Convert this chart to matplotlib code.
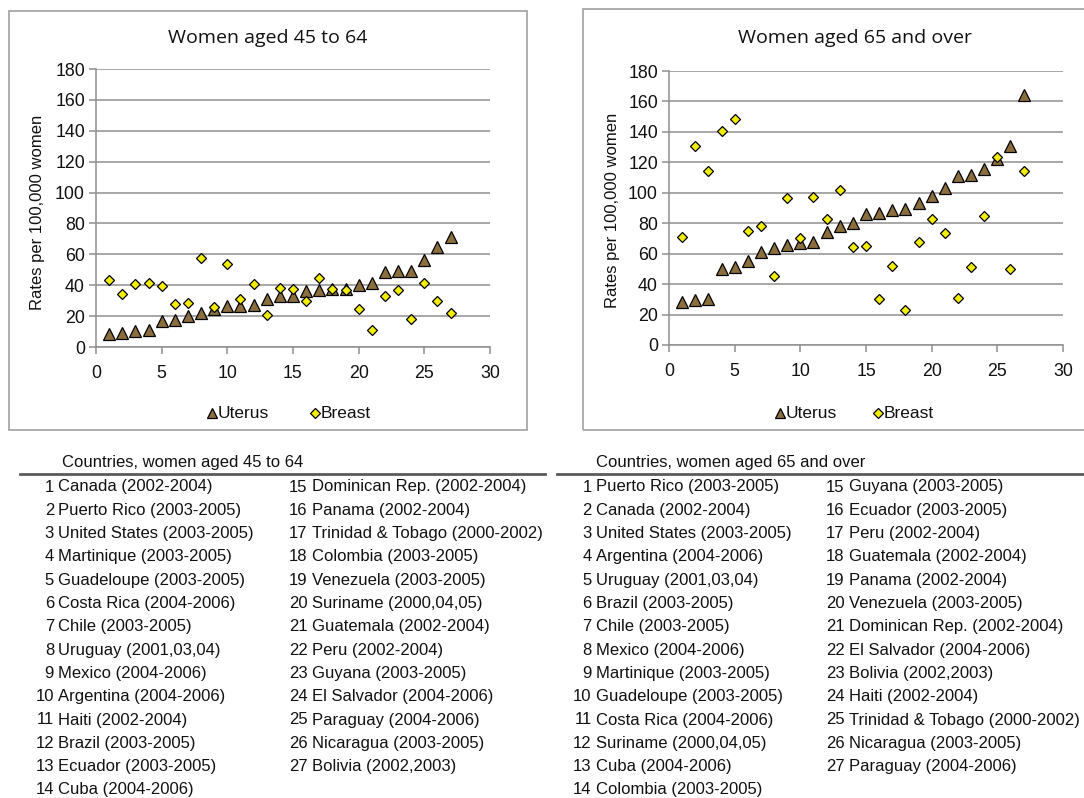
import matplotlib
matplotlib.use("Agg")
import matplotlib.pyplot as plt
from matplotlib.patches import Rectangle
from matplotlib.lines import Line2D

# ---------------- data ----------------
x_index = list(range(1, 28))

uterus_45_64 = [8.6, 9.3, 10.2, 10.8, 16.6, 17.3, 19.9, 22.3, 24.8, 26.6, 26.6, 27.4, 30.9, 32.8,
                33.0, 36.0, 36.7, 37.6, 37.6, 40.0, 41.7, 48.6, 49.0, 49.3, 56.6, 64.8, 71.3]
breast_45_64 = [43.6, 34.6, 41.0, 41.7, 39.5, 28.0, 28.5, 57.7, 26.0, 54.0, 31.0, 41.0, 20.5, 38.5,
                37.4, 29.6, 45.0, 37.8, 36.7, 24.4, 11.2, 33.0, 37.0, 18.0, 41.7, 29.6, 22.3]

uterus_65 = [28.0, 29.6, 30.2, 50.0, 51.5, 55.2, 61.0, 63.5, 65.7, 66.8, 67.9, 74.4, 78.4, 80.0,
             85.8, 86.5, 88.7, 89.1, 93.0, 98.0, 103.3, 111.0, 112.0, 115.4, 122.0, 131.0, 164.0]
breast_65 = [71.0, 131.0, 114.3, 140.6, 148.5, 75.0, 78.4, 45.3, 96.8, 70.5, 97.4, 82.8, 101.8, 64.2,
             65.3, 30.0, 51.9, 23.0, 67.9, 82.5, 73.8, 30.7, 51.5, 84.7, 123.7, 50.1, 114.5]

titles = ["Women aged 45 to 64", "Women aged 65 and over"]
y_label = "Rates per 100,000 women"
series_names = ["Uterus", "Breast"]
x_ticks = [0, 5, 10, 15, 20, 25, 30]
y_ticks = [0, 20, 40, 60, 80, 100, 120, 140, 160, 180]

table_titles = ["Countries, women aged 45 to 64", "Countries, women aged 65 and over"]
countries_45_64 = ["Canada (2002-2004)", "Puerto Rico (2003-2005)", "United States (2003-2005)",
                   "Martinique (2003-2005)", "Guadeloupe (2003-2005)", "Costa Rica (2004-2006)",
                   "Chile (2003-2005)", "Uruguay (2001,03,04)", "Mexico (2004-2006)",
                   "Argentina (2004-2006)", "Haiti (2002-2004)", "Brazil (2003-2005)",
                   "Ecuador (2003-2005)", "Cuba (2004-2006)", "Dominican Rep. (2002-2004)",
                   "Panama (2002-2004)", "Trinidad & Tobago (2000-2002)", "Colombia (2003-2005)",
                   "Venezuela (2003-2005)", "Suriname (2000,04,05)", "Guatemala (2002-2004)",
                   "Peru (2002-2004)", "Guyana (2003-2005)", "El Salvador (2004-2006)",
                   "Paraguay (2004-2006)", "Nicaragua (2003-2005)", "Bolivia (2002,2003)"]
countries_65 = ["Puerto Rico (2003-2005)", "Canada (2002-2004)", "United States (2003-2005)",
                "Argentina (2004-2006)", "Uruguay (2001,03,04)", "Brazil (2003-2005)",
                "Chile (2003-2005)", "Mexico (2004-2006)", "Martinique (2003-2005)",
                "Guadeloupe (2003-2005)", "Costa Rica (2004-2006)", "Suriname (2000,04,05)",
                "Cuba (2004-2006)", "Colombia (2003-2005)", "Guyana (2003-2005)",
                "Ecuador (2003-2005)", "Peru (2002-2004)", "Guatemala (2002-2004)",
                "Panama (2002-2004)", "Venezuela (2003-2005)", "Dominican Rep. (2002-2004)",
                "El Salvador (2004-2006)", "Bolivia (2002,2003)", "Haiti (2002-2004)",
                "Trinidad & Tobago (2000-2002)", "Nicaragua (2003-2005)", "Paraguay (2004-2006)"]

# ---------------- style ----------------
W, H = 1084, 798
plt.rcParams['font.family'] = ['Liberation Sans', 'DejaVu Sans']
UT_COLOR = '#8B6E3E'
BR_COLOR = '#F4EE06'
GRID = '#8F8F8F'
BOX = '#A8A8A8'

fig = plt.figure(figsize=(W / 100, H / 100), dpi=100)


def fx(x):
    return x / W


def fy(y):
    return 1 - y / H


def box(x0, y0, x1, y1):
    fig.patches.append(Rectangle((fx(x0), fy(y1)), fx(x1) - fx(x0), fy(y0) - fy(y1),
                                 transform=fig.transFigure, fill=False,
                                 edgecolor=BOX, linewidth=1.3, zorder=0))


box(9, 11, 527, 430)
box(583, 9, 1090, 430)

panels = [
    dict(ax_px=(96, 69, 490, 347), ut=uterus_45_64, br=breast_45_64, title=titles[0],
         title_x=268, ylab_x=38, ylab_y=212, leg=(212, 315)),
    dict(ax_px=(669, 71, 1063, 345), ut=uterus_65, br=breast_65, title=titles[1],
         title_x=855, ylab_x=612, ylab_y=210, leg=(780, 878)),
]

for p in panels:
    x0, y0, x1, y1 = p['ax_px']
    ax = fig.add_axes([fx(x0), fy(y1), fx(x1) - fx(x0), fy(y0) - fy(y1)])
    ax.set_xlim(0, 30)
    ax.set_ylim(0, 180)
    ax.set_xticks(x_ticks)
    ax.set_yticks(y_ticks)
    ax.tick_params(axis='both', labelsize=12.8, colors=GRID, labelcolor='#111111',
                   length=5, width=1.1, direction='out')
    ax.tick_params(axis='x', pad=8)
    ax.tick_params(axis='y', pad=3)
    for s in ['top', 'right']:
        ax.spines[s].set_visible(False)
    for s in ['left', 'bottom']:
        ax.spines[s].set_color(GRID)
        ax.spines[s].set_linewidth(1.1)
    ax.yaxis.grid(True, color=GRID, linewidth=1.1)
    ax.set_axisbelow(True)
    ax.plot(x_index, p['ut'], linestyle='none', marker='^', markersize=8.5,
            markerfacecolor=UT_COLOR, markeredgecolor='black', markeredgewidth=0.9,
            clip_on=False, zorder=3)
    ax.plot(x_index, p['br'], linestyle='none', marker='D', markersize=5.6,
            markerfacecolor=BR_COLOR, markeredgecolor='black', markeredgewidth=0.9,
            clip_on=False, zorder=4)
    fig.text(fx(p['ylab_x']), fy(p['ylab_y']), y_label, rotation=90, ha='center',
             va='center', fontsize=12, color='#111111')
    fig.text(fx(p['title_x']), fy(38), p['title'], ha='center', va='center',
             fontsize=14, family=['Open Sans', 'DejaVu Sans'], color='#111111')
    # legend
    ux, bx = p['leg']
    ly = fy(413)
    fig.lines.append(Line2D([fx(ux)], [ly], transform=fig.transFigure, linestyle='none',
                            marker='^', markersize=7.5, markerfacecolor=UT_COLOR,
                            markeredgecolor='black', markeredgewidth=0.9))
    fig.text(fx(ux + 6), ly, series_names[0], ha='left', va='center', fontsize=12.5,
             color='#111111')
    fig.lines.append(Line2D([fx(bx)], [ly], transform=fig.transFigure, linestyle='none',
                            marker='D', markersize=5.0, markerfacecolor=BR_COLOR,
                            markeredgecolor='black', markeredgewidth=0.9))
    fig.text(fx(bx + 6), ly, series_names[1], ha='left', va='center', fontsize=12.5,
             color='#111111')

# ---------------- tables ----------------
tables = [
    dict(title=table_titles[0], x_title=62, line=(20, 545), items=countries_45_64,
         cols=[(54, 58.5), (307.5, 312)]),
    dict(title=table_titles[1], x_title=596, line=(557, 1084), items=countries_65,
         cols=[(591.5, 596), (844.5, 849)]),
]
row0, step = 487, 23.3
for t in tables:
    fig.text(fx(t['x_title']), fy(462), t['title'], ha='left', va='center', fontsize=12,
             color='#111111')
    fig.lines.append(Line2D([fx(t['line'][0]), fx(t['line'][1])], [fy(474), fy(474)],
                            transform=fig.transFigure, color='#5A5A5A', linewidth=2.0))
    for i, name in enumerate(t['items']):
        col = 0 if i < 14 else 1
        r = i if i < 14 else i - 14
        nx, tx = t['cols'][col]
        yy = fy(row0 + r * step)
        fig.text(fx(nx), yy, str(i + 1), ha='right', va='center', fontsize=12,
                 color='#111111')
        fig.text(fx(tx), yy, name, ha='left', va='center', fontsize=12, color='#111111')

fig.savefig('out.png', dpi=100, facecolor='white')
